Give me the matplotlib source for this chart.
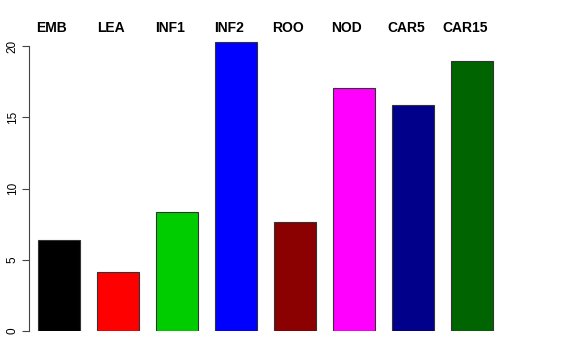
import matplotlib
matplotlib.use("Agg")
import matplotlib.pyplot as plt
import numpy as np

plt.rcParams['font.family'] = ['Liberation Sans', 'DejaVu Sans']

labels = ["EMB", "LEA", "INF1", "INF2", "ROO", "NOD", "CAR5", "CAR15"]
values = [6.4, 4.15, 8.35, 20.25, 7.65, 17.05, 15.85, 18.95]
colors = ["black", "red", "#00CD00", "blue", "#8B0000", "magenta", "#00008B", "#006400"]

W, H = 576, 360
fig = plt.figure(figsize=(W / 100, H / 100), dpi=100)

# axes placed in pixel terms: left edge at the y axis, bottom at zero
left, right, bottom, top = 29, 550, 331, 38
ax = fig.add_axes([left / W, 1 - bottom / H, (right - left) / W, (bottom - top) / H])

px_per_unit = 59.0
x = np.arange(len(labels))
ax.bar(x, values, width=42 / px_per_unit, color=colors, edgecolor="#333333", linewidth=0.8)

ax.set_xlim(-(59 - left) / px_per_unit, (right - 59) / px_per_unit)
ax.set_ylim(0, (bottom - top) / 14.25)

for s in ["top", "right", "bottom"]:
    ax.spines[s].set_visible(False)
ax.spines["left"].set_bounds(0, 20)
ax.spines["left"].set_color("#444444")
ax.set_xticks([])
ax.set_yticks([0, 5, 10, 15, 20])
ax.tick_params(axis="y", length=5, width=0.8, color="#444444", labelsize=8.5, pad=2.5)
for t in ax.get_yticklabels():
    t.set_rotation(90)
    t.set_va("center")

for i, lab in enumerate(labels):
    ax.annotate(lab, xy=(i - 0.12, 1 - 28 / H), xycoords=("data", "figure fraction"),
                ha="center", va="center", fontsize=10, fontweight="bold")

fig.savefig("out.png", dpi=100)
